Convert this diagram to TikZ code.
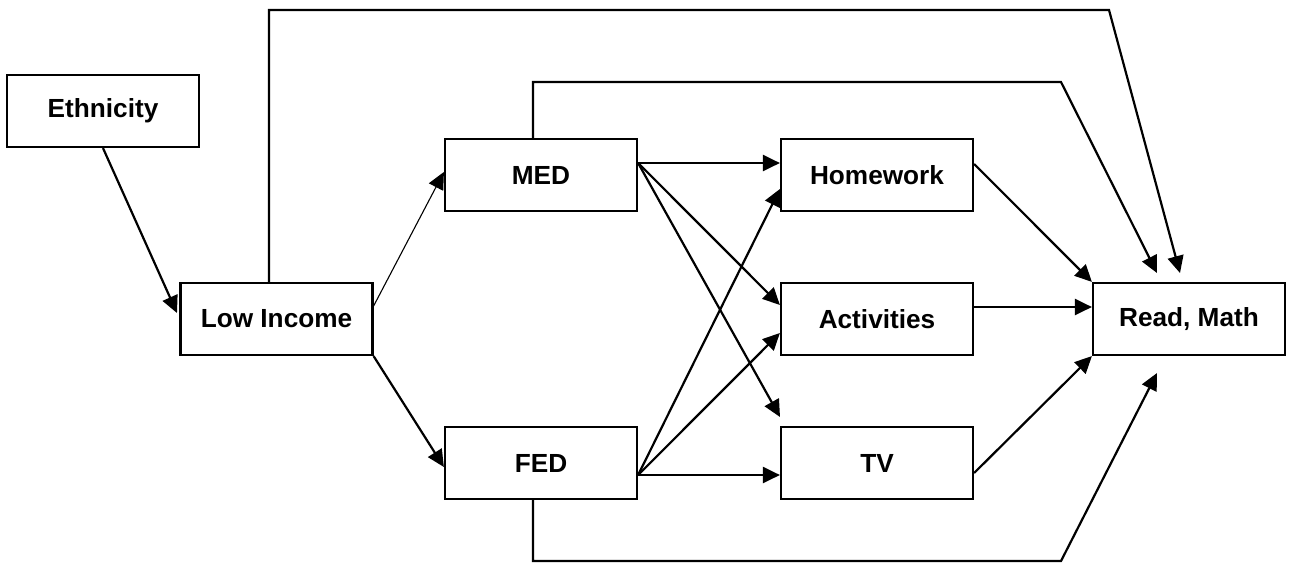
\documentclass[tikz,border=0pt]{standalone}
\usepackage{fontspec}
\setmainfont{Liberation Sans}
\usetikzlibrary{arrows.meta}
\tikzset{
  box/.style={draw, line width=1.1pt, minimum width=96pt, minimum height=36pt,
              inner sep=0pt, font=\fontsize{13.1}{15}\selectfont\bfseries},
  link/.style={line width=1.1pt, -{Triangle[length=8.5pt,width=8pt]}},
  thinlink/.style={link, line width=0.55pt},
}
\begin{document}
\begin{tikzpicture}[x=0.5pt,y=-0.5pt]
\useasboundingbox (0,0) rectangle (1290,563);

% variables
\node[box] (eth) at (103,111)   {Ethnicity};
\node[box] (low) at (276.5,319) {Low Income};
\node[box] (med) at (541,175)   {MED};
\node[box] (fed) at (541,463)   {FED};
\node[box] (hw)  at (877,175)   {Homework};
\node[box] (act) at (877,319)   {Activities};
\node[box] (tv)  at (877,463)   {TV};
\node[box] (rm)  at (1189,319)  {Read, Math};

% bends and free arrow ends
\coordinate (ethtip) at (177,313);
\coordinate (topbend) at (1109,10);
\coordinate (toptip) at (1180,273);
\coordinate (medbend) at (1061,82);
\coordinate (medtip) at (1157,273);
\coordinate (tvtip) at (780,417);
\coordinate (fedbend) at (1061,561);
\coordinate (fedtip) at (1157,373);

% first stage
\draw[link] (eth.south) -- (ethtip);
\draw[thinlink] ([yshift=6.5pt]low.east) -- ([yshift=1.5pt]med.west);
\draw[link] (low.south east) -- ([yshift=-2pt]fed.west);

% direct paths to the outcome
\draw[link] ([xshift=-3.75pt]low.north) |- (topbend) -- (toptip);
\draw[link] ([xshift=-4pt]med.north) |- (medbend) -- (medtip);
\draw[link] ([xshift=-4pt]fed.south) |- (fedbend) -- (fedtip);

% parental education to home factors
\draw[link] ([yshift=6pt]med.east) -- ([yshift=6pt]hw.west);
\draw[link] ([yshift=6pt]med.east) -- ([yshift=7pt]act.west);
\draw[link] ([yshift=6pt]med.east) -- (tvtip);
\draw[link] ([yshift=-6pt]fed.east) -- ([yshift=-7pt]hw.west);
\draw[link] ([yshift=-6pt]fed.east) -- ([yshift=-7pt]act.west);
\draw[link] ([yshift=-6pt]fed.east) -- ([yshift=-6pt]tv.west);

% home factors to the outcome
\draw[link] ([yshift=5.5pt]hw.east) -- (rm.north west);
\draw[link] ([yshift=6pt]act.east) -- ([yshift=6pt]rm.west);
\draw[link] ([yshift=-5pt]tv.east) -- (rm.south west);
\end{tikzpicture}
\end{document}
